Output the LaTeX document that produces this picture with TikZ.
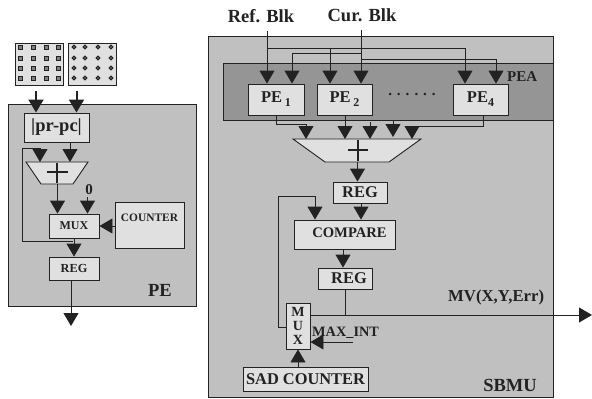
\documentclass[tikz,border=0pt]{standalone}
\usepackage{fontspec}
\setmainfont{Liberation Serif}
\usetikzlibrary{arrows.meta,calc}
\definecolor{panelgrey}{HTML}{C0C0C0}
\definecolor{peagrey}{HTML}{959595}
\definecolor{boxgrey}{HTML}{E0E0E0}
\definecolor{inkgrey}{HTML}{222222}
\newcommand{\rbox}[6]{%
  \pgfmathsetmacro{\bw}{#4-#2}\pgfmathsetmacro{\bh}{#5-#3}%
  \pgfmathsetmacro{\bcx}{(#4+#2)/2}\pgfmathsetmacro{\bcy}{(#5+#3)/2}%
  \node[blockbox,minimum width=\bw pt,minimum height=\bh pt] (#1) at (\bcx,\bcy) {#6};}
\tikzset{
  blockbox/.style={draw=inkgrey,line width=0.9pt,fill=boxgrey,inner sep=0pt,font=\bfseries,text=inkgrey},
  panel/.style={draw=inkgrey,line width=0.9pt,fill=panelgrey},
  wire/.style={draw=inkgrey,line width=0.9pt},
  arrowwire/.style={wire,-{Triangle[width=15pt,length=13pt,fill=inkgrey]}},
  heavywire/.style={arrowwire,line width=2pt},
  label/.style={font=\bfseries,text=inkgrey,inner sep=0pt},
  adder/.style={draw=inkgrey,line width=0.9pt,fill=boxgrey},
  plus/.style={draw=inkgrey,line width=1.5pt}
}
\begin{document}
\begin{tikzpicture}[x=1pt,y=-1pt]
\useasboundingbox (0,0) rectangle (592,399);
% ---------- left: PE
\node[panel,minimum width=188pt,minimum height=202pt,inner sep=0pt] (pepanel) at (102,205) {};
\node[panel,fill=boxgrey,minimum width=48pt,minimum height=42pt,inner sep=0pt] (gridr) at (39,64) {};
\node[panel,fill=boxgrey,minimum width=48pt,minimum height=42pt,inner sep=0pt] (gridc) at (92,64) {};
\foreach \x in {20,33,46,58}\foreach \y in {47,58,68,78}
  \draw[draw=inkgrey,line width=1pt,fill=gray] (\x-2,\y-2) rectangle (\x+2,\y+2);
\foreach \x in {74,85,98,111}\foreach \y in {47,58,68,78}
  \draw[draw=inkgrey,line width=1pt,fill=gray] (\x,\y) circle (1.9pt);
\rbox{absdiff}{24}{113}{89}{142}{\fontsize{18.5}{18}\selectfont |pr-pc|}
\rbox{lmux}{49}{214}{99}{238}{\fontsize{12}{12}\selectfont MUX}
\rbox{lcount}{115}{202}{184}{248}{\raisebox{14pt}{\fontsize{11.4}{12}\selectfont COUNTER}}
\rbox{lreg}{49}{257}{99}{280}{\fontsize{12.3}{12}\selectfont REG}
\draw[adder] (26,162) coordinate (laddl) -- (88,162) coordinate (laddr) -- (73,184) -- (41,184) -- cycle;
\coordinate (laddbot) at (57.5,184);
\draw[plus] (46.5,172) -- (67.5,172) (57,162.5) -- (57,183);
\coordinate (inr) at (36,91);
\coordinate (inc) at (76.5,91);
\draw[heavywire] (inr) -- (inr |- absdiff.north);
\draw[heavywire] (inc) -- (inc |- absdiff.north);
\coordinate (adda) at (70,142);
\draw[arrowwire] (adda) -- (adda |- laddr);
\coordinate (fbtop) at (40,148);
\coordinate (fbl) at (22,148);
\coordinate (fbb) at (22,241);
\coordinate (junc) at (73,241);
\draw[arrowwire] (junc) -- (fbb) -- (fbl) -- (fbtop) -- (fbtop |- laddl);
\draw[arrowwire] (laddbot) -- (laddbot |- lmux.north);
\node[label,font=\bfseries\fontsize{15}{15}\selectfont] (zero) at (89,190) {0};
\coordinate (zerob) at (87.5,197);
\draw[arrowwire] (zerob) -- (zerob |- lmux.north);
\draw[arrowwire] (lcount.west |- lmux.east) -- (lmux.east);
\draw[arrowwire] (lmux.south) -- (lreg.north);
\coordinate (lout) at (71,326);
\draw[arrowwire] (lout |- lreg.south) -- (lout);
\node[label,font=\bfseries\fontsize{18.5}{18}\selectfont] (pelabel) at (160,290) {PE};
% ---------- right: SBMU
\node[panel,minimum width=345pt,minimum height=361pt,inner sep=0pt] (sbmu) at (380.5,216.5) {};
\node[panel,fill=peagrey,minimum width=330pt,minimum height=57pt,inner sep=0pt] (pea) at (388,91.5) {};
\node[label,font=\bfseries\fontsize{15}{15}\selectfont,anchor=west] (pealabel) at (507,77) {PEA};
\rbox{pea1}{248}{84}{304}{115}{\fontsize{16.5}{16}\selectfont PE\,{\raisebox{-4pt}{\fontsize{12}{12}\selectfont 1}}}
\rbox{pea2}{317}{84}{372}{115}{\fontsize{16.5}{16}\selectfont PE\,{\raisebox{-4pt}{\fontsize{12}{12}\selectfont 2}}}
\rbox{pea4}{453}{84}{508}{115}{\fontsize{16.5}{16}\selectfont PE{\raisebox{-4pt}{\fontsize{12}{12}\selectfont 4}}}
\node[label,font=\bfseries\fontsize{15}{15}\selectfont] (dots) at (412,94) {. . . . . .};
\node[label,font=\bfseries\fontsize{18.5}{18}\selectfont] (refblk) at (261,16) {Ref. Blk};
\node[label,font=\bfseries\fontsize{18.5}{18}\selectfont] (curblk) at (362,15) {Cur. Blk};
\coordinate (reftop) at (267,31);
\coordinate (curtop) at (361,30);
\coordinate (refbus) at (267,48);
\coordinate (curbusa) at (361,53);
\coordinate (curbusb) at (361,59);
\draw[arrowwire] (reftop) -- (reftop |- pea1.north);
\draw[arrowwire] (curtop) -- (curtop |- pea2.north);
\coordinate (r2) at (330,48);
\coordinate (r4) at (465,48);
\coordinate (c1) at (292,53);
\coordinate (c4) at (496,59);
\draw[arrowwire] (refbus) -- (r4) -- (r4 |- pea4.north);
\draw[arrowwire] (r2) -- (r2 |- pea2.north);
\draw[arrowwire] (curbusa) -- (c1) -- (c1 |- pea1.north);
\draw[arrowwire] (curbusb) -- (c4) -- (c4 |- pea4.north);
\draw[adder] (293,139) coordinate (raddl) -- (421,139) coordinate (raddr) -- (389,162) -- (325,162) -- cycle;
\coordinate (raddbot) at (357.5,162);
\draw[plus] (348,150) -- (368,150) (358,139.5) -- (358,161);
\coordinate (o1a) at (276,115);
\coordinate (o1b) at (276,124);
\coordinate (o1c) at (306,124);
\draw[arrowwire] (o1a) -- (o1b) -- (o1c) -- (o1c |- raddl);
\coordinate (o2) at (345,115);
\draw[arrowwire] (o2) -- (o2 |- raddl);
\coordinate (o3) at (370,122);
\draw[arrowwire] (o3) -- (o3 |- raddl);
\coordinate (o4) at (393,120);
\coordinate (o4e) at (393,137);
\draw[arrowwire] (o4) -- (o4e);
\coordinate (o5a) at (483,115);
\coordinate (o5b) at (483,126);
\coordinate (o5c) at (412,126);
\draw[arrowwire] (o5a) -- (o5b) -- (o5c) -- (o5c |- raddl);
\rbox{reg1}{333}{182}{387}{203}{\fontsize{16.4}{16}\selectfont REG}
\rbox{cmp}{294}{220}{395}{249}{\hspace{10pt}\raisebox{3pt}{\fontsize{14.6}{15}\selectfont COMPARE}}
\rbox{reg2}{318}{268}{372}{289}{\hspace{8pt}\fontsize{16.4}{16}\selectfont REG}
\rbox{rmux}{286}{303}{310}{349}{\parbox{20pt}{\centering\fontsize{14}{14}\selectfont M\\U\\X}}
\rbox{sad}{243}{367}{368}{391}{\fontsize{16.4}{16}\selectfont SAD COUNTER}
\draw[arrowwire] (raddbot) -- (raddbot |- reg1.north);
\coordinate (r1c) at (361,203);
\draw[arrowwire] (r1c) -- (r1c |- cmp.north);
\coordinate (cmpo) at (343,249);
\draw[arrowwire] (cmpo) -- (cmpo |- reg2.north);
\coordinate (fb1) at (278,327);
\coordinate (fb2) at (278,196);
\coordinate (fb3) at (315,196);
\draw[arrowwire] (fb1 -| rmux.west) -- (fb1) -- (fb2) -- (fb3) -- (fb3 |- cmp.north);
\coordinate (mvend) at (592,315);
\draw[arrowwire] (mvend -| rmux.east) -- (mvend);
\coordinate (r2o) at (345,289);
\draw[wire] (r2o) -- (r2o |- mvend);
\coordinate (maxs) at (353,342);
\draw[arrowwire] (maxs) -- (maxs -| rmux.east);
\coordinate (sadx) at (298,367);
\draw[arrowwire] (sadx) -- (sadx |- rmux.south);
\node[label,font=\bfseries\fontsize{14.3}{14}\selectfont,anchor=west] (maxint) at (312,333) {MAX\_INT};
\node[label,font=\bfseries\fontsize{16.7}{16}\selectfont,anchor=west] (mv) at (448,297) {MV(X,Y,Err)};
\node[label,font=\bfseries\fontsize{18.5}{18}\selectfont] (sbmulabel) at (510,385) {SBMU};
\end{tikzpicture}
\end{document}
